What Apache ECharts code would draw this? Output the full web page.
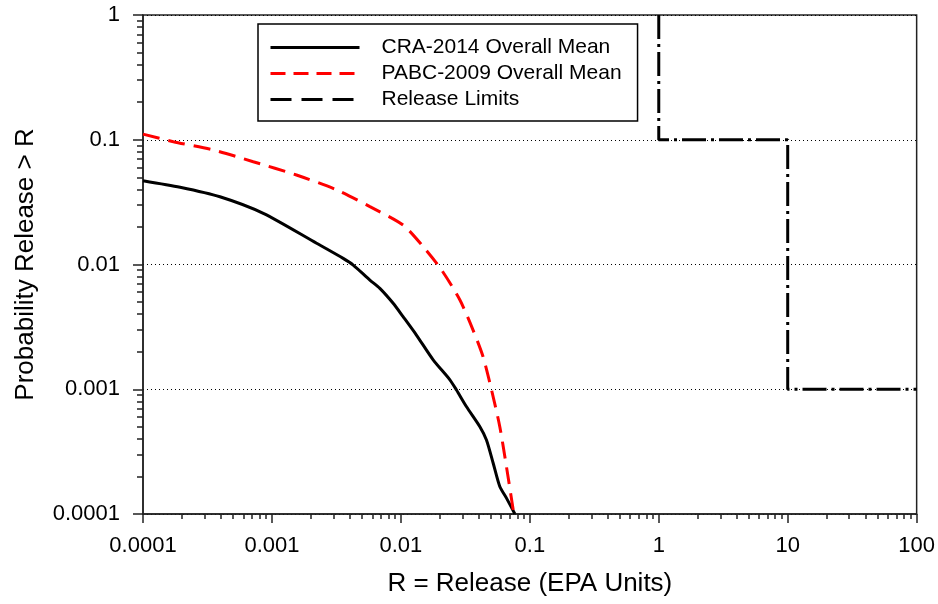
<!DOCTYPE html>
<html>
<head>
<meta charset="utf-8">
<script src="https://cdn.jsdelivr.net/npm/echarts@6/dist/echarts.min.js"></script>
<style>
  html, body { margin: 0; padding: 0; background: #fff; }
  #chart { width: 938px; height: 604px; }
</style>
</head>
<body>
<div id="chart"></div>
<script>
// CRA-2014 overall mean
var craX = [0.0001, 0.000194, 0.000395, 0.000857, 0.00222, 0.00357, 0.00427, 0.00575, 0.00687, 0.00871, 0.0104,
            0.0132, 0.0178, 0.024, 0.027, 0.0323, 0.041, 0.0461, 0.052, 0.0585, 0.0659, 0.0766];
var craY = [0.047, 0.0416, 0.0349, 0.0257, 0.0148, 0.0112, 0.0099, 0.00751, 0.00644, 0.00489, 0.00382,
            0.00272, 0.00172, 0.00119, 0.000986, 0.000724, 0.000501, 0.000392, 0.000255, 0.000166, 0.000134, 0.0001];
// PABC-2009 overall mean
var pabcX = [0.0001, 0.000172, 0.000351, 0.000716, 0.00155, 0.00318, 0.00575, 0.0104, 0.0149, 0.0207,
             0.0287, 0.0363, 0.0434, 0.0505, 0.0585, 0.0659, 0.0743, 0.0751];
var pabcY = [0.111, 0.0965, 0.0828, 0.0667, 0.0522, 0.0396, 0.0291, 0.0207, 0.0139, 0.00903,
             0.00519, 0.00298, 0.00182, 0.000986, 0.000501, 0.000239, 0.000108, 0.0001];
// release limits (step)
var limitX = [1, 1, 10, 10, 100];
var limitY = [1, 0.1, 0.1, 0.001, 0.001];

var seriesNames = ['CRA-2014 Overall Mean', 'PABC-2009 Overall Mean', 'Release Limits'];
var xTickLabels = ['0.0001', '0.001', '0.01', '0.1', '1', '10', '100'];
var yTickLabels = ['0.0001', '0.001', '0.01', '0.1', '1'];
var xTitle = 'R = Release (EPA Units)';
var yTitle = 'Probability Release > R';

function pairs(xs, ys) {
    var out = [];
    for (var i = 0; i < xs.length; i++) out.push([xs[i], ys[i]]);
    return out;
}
// minor ticks 2..9 in each decade
function minorTicks(lo, hi) {
    var out = [];
    for (var e = lo; e < hi; e++) {
        for (var k = 2; k <= 9; k++) out.push(+(k * Math.pow(10, e)).toPrecision(3));
    }
    return out;
}
function majorTicks(lo, hi) {
    var out = [];
    for (var e = lo; e <= hi; e++) out.push(+Math.pow(10, e).toPrecision(3));
    return out;
}

var font = "'Liberation Sans', Arial, sans-serif";
var axisCol = '#222';

var chart = echarts.init(document.getElementById('chart'));
var option = {
    animation: false,
    backgroundColor: '#fff',
    grid: {
        left: 143, right: 21, top: 15, bottom: 90,
        show: true, borderColor: axisCol, borderWidth: 1.5, backgroundColor: '#fff'
    },
    legend: {
        orient: 'vertical',
        left: 258, top: 24,
        padding: [13, 16, 11, 11],
        itemWidth: 89, itemHeight: 21, itemGap: 5,
        borderColor: '#000', borderWidth: 1.5, backgroundColor: '#fff',
        itemStyle: { opacity: 0 },
        lineStyle: { width: 3 },
        textStyle: { fontFamily: font, fontSize: 21, color: '#000', lineHeight: 21, padding: [0, 0, 0, 17] },
        data: [
            { name: seriesNames[0], lineStyle: { width: 3 } },
            { name: seriesNames[1], lineStyle: { width: 3, type: [15, 8] } },
            { name: seriesNames[2], lineStyle: { width: 3, type: [21, 10] } }
        ]
    },
    xAxis: [{
        type: 'log', logBase: 10, min: 0.0001, max: 100,
        position: 'bottom',
        name: xTitle, nameLocation: 'middle', nameGap: 57,
        nameTextStyle: { fontFamily: font, fontSize: 26, color: '#000' },
        axisLine: { show: true, lineStyle: { color: axisCol, width: 1.5 } },
        axisTick: { show: true, length: 9, customValues: majorTicks(-4, 2), lineStyle: { color: axisCol, width: 1.5 } },
        axisLabel: {
            margin: 21, fontFamily: font, fontSize: 22, color: '#000',
            showMinLabel: true, showMaxLabel: true,
            formatter: function (v) { return xTickLabels[Math.round(Math.log10(v)) + 4]; }
        },
        splitLine: { show: false }
    }, {
        type: 'log', logBase: 10, min: 0.0001, max: 100,
        position: 'bottom',
        axisLine: { show: false },
        axisTick: { show: true, length: 5, customValues: minorTicks(-4, 2), lineStyle: { color: axisCol, width: 1.5 } },
        axisLabel: { show: false },
        splitLine: { show: false }
    }],
    yAxis: [{
        type: 'log', logBase: 10, min: 0.0001, max: 1,
        position: 'left',
        name: yTitle, nameLocation: 'middle', nameGap: 104,
        nameTextStyle: { fontFamily: font, fontSize: 26, color: '#000' },
        axisLine: { show: true, lineStyle: { color: axisCol, width: 1.5 } },
        axisTick: { show: true, length: 10, customValues: majorTicks(-4, 0), lineStyle: { color: axisCol, width: 1.5 } },
        axisLabel: {
            margin: 23, fontFamily: font, fontSize: 22, color: '#000',
            showMinLabel: true, showMaxLabel: true,
            formatter: function (v) { return yTickLabels[Math.round(Math.log10(v)) + 4]; }
        },
        splitLine: { show: true, lineStyle: { color: '#000', width: 1, type: [1, 3] } }
    }, {
        type: 'log', logBase: 10, min: 0.0001, max: 1,
        position: 'left',
        axisLine: { show: false },
        axisTick: { show: true, length: 6, customValues: minorTicks(-4, 0), lineStyle: { color: axisCol, width: 1.5 } },
        axisLabel: { show: false },
        splitLine: { show: false }
    }],
    series: [{
        name: seriesNames[0], type: 'line', xAxisIndex: 0, yAxisIndex: 0,
        data: pairs(craX, craY), symbol: 'none', smooth: 0.25,
        lineStyle: { color: '#000', width: 3 }, itemStyle: { color: '#000' }
    }, {
        name: seriesNames[1], type: 'line', xAxisIndex: 0, yAxisIndex: 0,
        data: pairs(pabcX, pabcY), symbol: 'none', smooth: 0.25,
        lineStyle: { color: '#ff0000', width: 3, type: [17, 9] }, itemStyle: { color: '#ff0000' }
    }, {
        name: seriesNames[2], type: 'line', xAxisIndex: 0, yAxisIndex: 0,
        data: pairs(limitX, limitY), symbol: 'none',
        lineStyle: { color: '#000', width: 3, type: [24, 5, 3, 5] }, itemStyle: { color: '#000' }
    }]
};
chart.setOption(option);
</script>
</body>
</html>
